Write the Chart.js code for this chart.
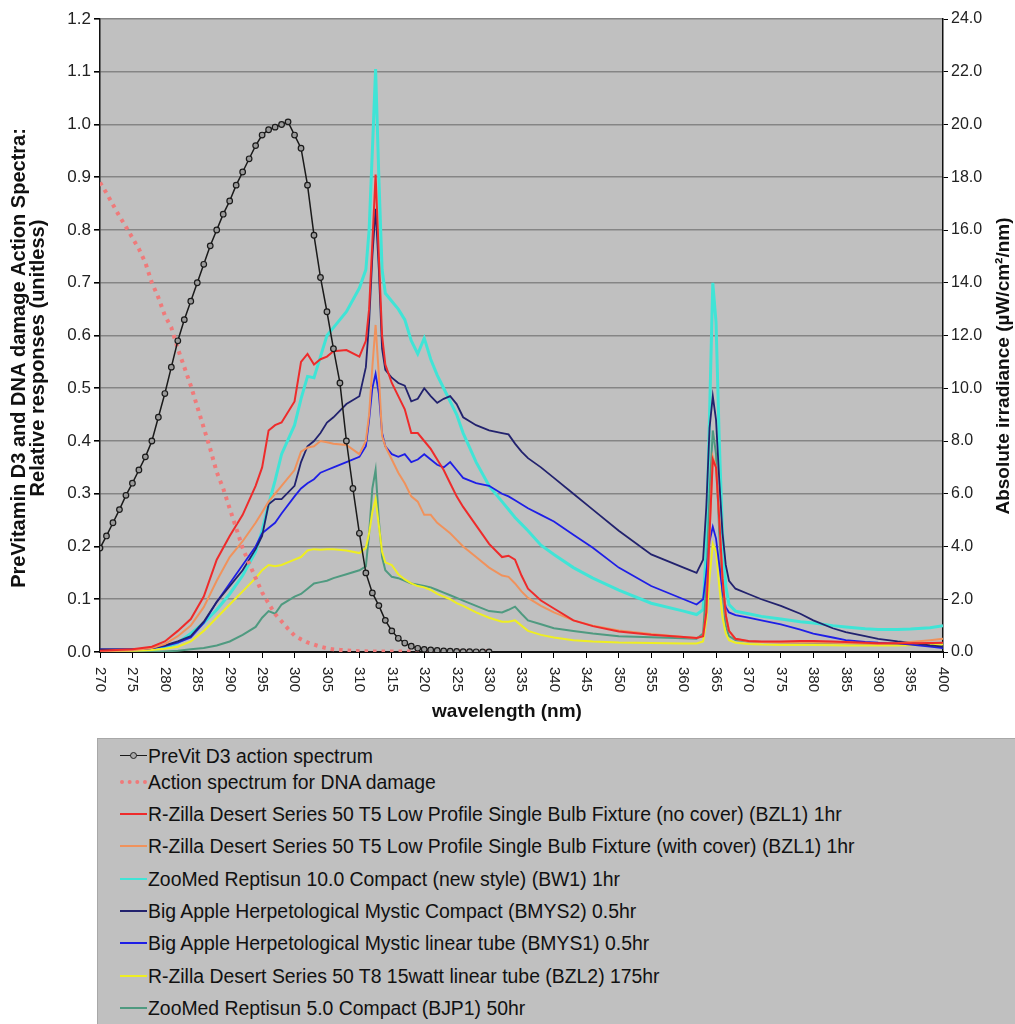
<!DOCTYPE html>
<html>
<head>
<meta charset="utf-8">
<script src="https://cdn.jsdelivr.net/npm/chart.js@4/dist/chart.umd.min.js"></script>
<style>
  body { margin: 0; background: #fff; font-family: "Liberation Sans", Arial, sans-serif; }
  #wrap { position: relative; width: 1015px; height: 1024px; overflow: hidden; }
  #chart { position: absolute; left: 0; top: 0; }
  #legend { position: absolute; left: 97px; top: 738px; width: 930px; height: 300px;
            background: #c0c0c0; border: 1px solid #a8a8a8; }
  .row { position: absolute; left: 0; height: 24px; width: 900px; }
  .sample { position: absolute; left: 22px; width: 27px; top: 11px; height: 0; }
  .dot { position: absolute; left: 10px; top: -4px; width: 5px; height: 5px; border: 1px solid #222;
         border-radius: 50%; background: #a8a8a8; }
  .txt { position: absolute; left: 50px; top: 0; font-size: 19.4px; line-height: 24px; color: #111; white-space: nowrap; }
</style>
</head>
<body>
<div id="wrap">
  <canvas id="chart" width="1015" height="735"></canvas>
  <div id="legend"></div>
</div>
<script>
// action spectra, 1 nm steps (left axis, unitless)
const actionNm = [270,271,272,273,274,275,276,277,278,279,280,281,282,283,284,285,286,287,288,289,
  290,291,292,293,294,295,296,297,298,299,300,301,302,303,304,305,306,307,308,309,
  310,311,312,313,314,315,316,317,318,319,320,321,322,323,324,325,326,327,328,329,330];
const previtD3 = [0.197,0.22,0.245,0.27,0.297,0.32,0.345,0.37,0.40,0.445,
  0.49,0.54,0.59,0.63,0.665,0.70,0.735,0.77,0.80,0.83,
  0.855,0.885,0.91,0.935,0.96,0.98,0.99,0.995,1.0,1.005,
  0.98,0.955,0.885,0.79,0.71,0.645,0.575,0.51,0.40,0.31,
  0.225,0.15,0.112,0.088,0.06,0.04,0.026,0.017,0.011,0.007,
  0.005,0.004,0.003,0.002,0.0015,0.001,0.0008,0.0006,0.0004,0.0002,0.0001];
const dnaDamage = [0.89,0.87,0.848,0.826,0.806,0.785,0.764,0.738,0.70,0.672,
  0.638,0.615,0.575,0.54,0.505,0.465,0.425,0.385,0.341,0.31,
  0.272,0.235,0.197,0.168,0.14,0.113,0.092,0.072,0.058,0.044,
  0.031,0.024,0.018,0.014,0.01,0.007,0.005,0.004,0.003,0.002,
  0.0015,0.0012,0.001,0.001,0.001,0.001,0.001,0.001,0.001,0.001,
  0.001,0.001,0.001,0.001,0.001,0.001,0.001,0.001,0.001,0.001,0.001];

// lamp spectra (right axis, uW/cm2/nm)
const lampNm = [270,275,278,280,282,284,286,288,290,292,
  294,295,296,297,298,300,301,302,303,304,
  305,306,308,310,311,311.5,312,312.5,313,313.5,
  314,315,316,317,318,319,320,321,322,323,
  324,325,326,328,330,332,333,334,335,336,
  338,340,343,346,350,355,360,362,363,363.5,
  364,364.5,365,365.5,366,366.5,367,368,370,372,
  375,378,380,383,385,388,390,393,395,398,400];
const bzl1NoCover = [0.05,0.1,0.2,0.4,0.8,1.25,2.1,3.5,4.4,5.2,
  6.3,7.0,8.4,8.6,8.7,9.5,11.0,11.3,10.9,11.1,
  11.2,11.4,11.45,11.2,11.8,13.0,15.5,18.1,15.0,12.0,
  10.9,10.2,9.7,9.2,8.3,8.3,8.0,7.7,7.3,6.9,
  6.4,5.9,5.5,4.8,4.1,3.6,3.65,3.5,2.9,2.4,
  1.95,1.65,1.2,0.98,0.78,0.65,0.57,0.53,0.6,1.5,
  4.5,7.3,7.0,5.0,2.8,1.4,0.8,0.5,0.42,0.4,
  0.4,0.42,0.42,0.4,0.38,0.35,0.33,0.33,0.33,0.34,0.35];
const bzl1Cover = [0.03,0.07,0.15,0.3,0.6,1.0,1.7,2.7,3.6,4.2,
  4.9,5.3,5.7,6.0,6.3,6.9,7.6,7.75,7.8,8.0,
  7.95,7.9,7.85,7.5,8.0,9.0,10.8,12.4,10.5,8.2,
  7.8,7.3,6.8,6.4,5.9,5.7,5.2,5.2,4.9,4.7,
  4.5,4.25,4.0,3.6,3.2,2.9,2.85,2.6,2.3,2.05,
  1.75,1.5,1.2,1.0,0.82,0.68,0.57,0.53,0.6,1.5,
  4.5,7.4,7.0,5.0,2.8,1.4,0.8,0.5,0.4,0.38,
  0.36,0.36,0.36,0.35,0.34,0.32,0.3,0.33,0.38,0.45,0.5];
const bw1 = [0.0,0.02,0.08,0.15,0.35,0.7,1.1,1.6,2.2,2.9,
  3.8,4.6,5.6,6.5,7.5,8.6,9.6,10.45,10.4,11.2,
  12.0,12.3,12.9,13.8,14.5,16.0,19.0,22.1,18.0,14.5,
  13.6,13.3,13.0,12.6,11.8,11.3,11.9,11.1,10.5,10.0,
  9.5,9.0,8.3,7.2,6.3,5.7,5.4,5.1,4.85,4.6,
  4.05,3.7,3.2,2.8,2.35,1.85,1.55,1.42,1.6,4.0,
  9.0,14.0,12.5,8.0,4.5,2.5,1.8,1.55,1.45,1.35,
  1.25,1.15,1.1,1.0,0.95,0.88,0.85,0.85,0.87,0.92,1.0];
const bmys2 = [0.1,0.1,0.15,0.25,0.4,0.6,1.15,1.9,2.5,3.1,
  3.9,4.4,5.6,5.8,5.8,6.3,7.2,7.8,8.0,8.3,
  8.7,8.9,9.4,9.7,10.8,12.5,15.0,16.8,14.5,11.5,
  10.7,10.4,10.2,10.1,9.5,9.6,10.0,9.7,9.45,9.6,
  9.7,9.4,8.9,8.6,8.4,8.3,8.25,7.9,7.6,7.35,
  7.0,6.6,6.0,5.4,4.6,3.7,3.2,3.0,3.5,5.5,
  8.5,9.7,8.8,6.5,4.5,3.3,2.7,2.4,2.2,2.0,
  1.75,1.45,1.2,0.9,0.75,0.6,0.5,0.4,0.35,0.25,0.2];
const bmys1 = [0.1,0.1,0.15,0.22,0.35,0.55,1.1,1.9,2.6,3.3,
  4.0,4.5,4.7,4.9,5.25,5.9,6.2,6.4,6.55,6.8,
  6.9,7.0,7.2,7.4,7.8,8.8,10.0,10.55,9.8,8.3,
  7.8,7.5,7.4,7.5,7.2,7.3,7.5,7.3,7.1,7.0,
  7.2,6.9,6.6,6.4,6.3,6.0,5.9,5.75,5.6,5.45,
  5.2,4.95,4.45,3.95,3.2,2.5,2.0,1.8,2.0,3.0,
  4.2,4.75,4.3,3.3,2.3,1.7,1.5,1.4,1.3,1.2,
  1.05,0.85,0.7,0.55,0.45,0.38,0.35,0.33,0.28,0.2,0.15];
const bzl2 = [0.05,0.05,0.08,0.12,0.2,0.4,0.8,1.3,1.8,2.3,
  2.8,3.1,3.3,3.25,3.3,3.5,3.6,3.85,3.9,3.88,
  3.9,3.9,3.85,3.75,3.95,4.5,5.3,5.8,4.8,3.8,
  3.4,3.3,2.95,2.75,2.6,2.5,2.45,2.35,2.2,2.1,
  2.0,1.85,1.75,1.5,1.3,1.15,1.15,1.2,1.0,0.8,
  0.65,0.55,0.45,0.4,0.36,0.34,0.32,0.32,0.4,1.2,
  2.8,4.1,3.8,2.5,1.3,0.7,0.45,0.35,0.3,0.28,
  0.27,0.27,0.27,0.26,0.25,0.25,0.25,0.25,0.26,0.27,0.28];
const bjp1 = [0.0,0.0,0.0,0.02,0.05,0.1,0.15,0.25,0.4,0.65,
  0.95,1.3,1.55,1.45,1.8,2.1,2.2,2.4,2.6,2.65,
  2.7,2.8,2.95,3.1,3.25,4.5,6.2,6.9,5.0,3.6,
  3.1,2.85,2.8,2.7,2.6,2.55,2.5,2.45,2.35,2.25,
  2.15,2.05,1.95,1.75,1.55,1.5,1.6,1.72,1.45,1.2,
  1.05,0.9,0.8,0.7,0.6,0.56,0.52,0.5,0.7,2.5,
  6.0,8.4,7.5,4.5,2.2,1.0,0.6,0.45,0.4,0.38,
  0.37,0.36,0.35,0.34,0.33,0.32,0.3,0.3,0.3,0.3,0.3];

const xTicks = { min: 270, max: 400, step: 5 };
const leftTicks = { min: 0, max: 1.2, step: 0.1 };
const rightTicks = { min: 0, max: 24, step: 2 };

const FONT = '"Liberation Sans", Arial, sans-serif';

function pts(xs, ys) {
  return xs.map((x, i) => ({ x: x, y: ys[i] }));
}

const datasets = [
  { label: 'PreVit D3 action spectrum', data: pts(actionNm, previtD3), yAxisID: 'y',
    borderColor: '#1a1a1a', borderWidth: 1.5, pointRadius: 2.8, pointBorderWidth: 1.2,
    pointBorderColor: '#1a1a1a', pointBackgroundColor: '#9a9a9a', marker: true },
  { label: 'Action spectrum for DNA damage', data: pts(actionNm, dnaDamage), yAxisID: 'y',
    borderColor: '#ef7a7a', borderWidth: 4, borderDash: [3.5, 5], dotted: true },
  { label: 'R-Zilla Desert Series 50 T5 Low Profile Single Bulb Fixture (no cover) (BZL1) 1hr',
    data: pts(lampNm, bzl1NoCover), yAxisID: 'y2', borderColor: '#ee2b2b', borderWidth: 2 },
  { label: 'R-Zilla Desert Series 50 T5 Low Profile Single Bulb Fixture (with cover) (BZL1) 1hr',
    data: pts(lampNm, bzl1Cover), yAxisID: 'y2', borderColor: '#f0925c', borderWidth: 2 },
  { label: 'ZooMed Reptisun 10.0 Compact (new style) (BW1) 1hr',
    data: pts(lampNm, bw1), yAxisID: 'y2', borderColor: '#40e4d6', borderWidth: 3, order: 9 },
  { label: 'Big Apple Herpetological Mystic Compact (BMYS2) 0.5hr',
    data: pts(lampNm, bmys2), yAxisID: 'y2', borderColor: '#22226e', borderWidth: 1.8 },
  { label: 'Big Apple Herpetological Mystic linear tube (BMYS1) 0.5hr',
    data: pts(lampNm, bmys1), yAxisID: 'y2', borderColor: '#1e1ee6', borderWidth: 1.8 },
  { label: 'R-Zilla Desert Series 50 T8 15watt linear tube (BZL2) 175hr',
    data: pts(lampNm, bzl2), yAxisID: 'y2', borderColor: '#eeee22', borderWidth: 2 },
  { label: 'ZooMed Reptisun 5.0 Compact (BJP1) 50hr',
    data: pts(lampNm, bjp1), yAxisID: 'y2', borderColor: '#4f9a80', borderWidth: 2 },
];

// plot background, clockwise x labels and axis titles
const decor = {
  id: 'decor',
  beforeDraw(chart) {
    const { ctx, chartArea: a } = chart;
    ctx.save();
    ctx.fillStyle = '#c0c0c0';
    ctx.fillRect(a.left, a.top, a.right - a.left, a.bottom - a.top);
    ctx.restore();
  },
  afterDraw(chart) {
    const ctx = chart.ctx;
    const x = chart.scales.x;
    ctx.save();
    ctx.fillStyle = '#222';
    ctx.font = '15px ' + FONT;
    ctx.textAlign = 'left';
    ctx.textBaseline = 'middle';
    x.ticks.forEach(t => {
      ctx.save();
      ctx.translate(x.getPixelForValue(t.value), x.top + 15);
      ctx.rotate(Math.PI / 2);
      ctx.fillText(String(t.value), 0, 0);
      ctx.restore();
    });

    ctx.fillStyle = '#111';
    ctx.textAlign = 'center';
    ctx.font = 'bold 19px ' + FONT;
    ctx.fillText('wavelength (nm)', 507, 712);

    ctx.font = 'bold 20px ' + FONT;
    ctx.save();
    ctx.translate(19, 358);
    ctx.rotate(-Math.PI / 2);
    ctx.fillText('PreVitamin D3 and DNA damage Action Spectra:', 0, 0);
    ctx.fillText('Relative responses (unitless)', 0, 19);
    ctx.restore();

    ctx.font = 'bold 19px ' + FONT;
    ctx.save();
    ctx.translate(1004, 366);
    ctx.rotate(-Math.PI / 2);
    ctx.fillText('Absolute irradiance (\u00b5W/cm\u00b2/nm)', 0, 0);
    ctx.restore();
    ctx.restore();
  }
};

const chart = new Chart(document.getElementById('chart'), {
  type: 'line',
  data: { datasets: datasets },
  options: {
    responsive: false,
    animation: false,
    layout: { padding: { top: 19, left: 0, right: 0, bottom: 0 } },
    elements: { line: { tension: 0 }, point: { radius: 0 } },
    plugins: { legend: { display: false }, tooltip: { enabled: false } },
    scales: {
      x: {
        type: 'linear', min: xTicks.min, max: xTicks.max,
        afterFit: s => { s.height = 83; },
        ticks: { stepSize: xTicks.step, autoSkip: false, minRotation: 90, maxRotation: 90,
                 color: 'rgba(0,0,0,0)', font: { size: 15, family: FONT } },
        grid: { drawOnChartArea: false, tickLength: 6, tickColor: '#000' },
        border: { color: '#111', width: 2 }
      },
      y: {
        position: 'left', min: leftTicks.min, max: leftTicks.max,
        afterFit: s => { s.width = 100; },
        ticks: { stepSize: leftTicks.step, color: '#222', padding: 3,
                 font: { size: 17, family: FONT }, callback: v => v.toFixed(1) },
        grid: { color: '#858585', lineWidth: 1.6, tickLength: 6, tickColor: '#000' },
        border: { color: '#111', width: 1.5 }
      },
      y2: {
        position: 'right', min: rightTicks.min, max: rightTicks.max,
        afterFit: s => { s.width = 72; },
        ticks: { stepSize: rightTicks.step, color: '#222', padding: 3,
                 font: { size: 16, family: FONT }, callback: v => v.toFixed(1) },
        grid: { drawOnChartArea: false, tickLength: 5, tickColor: '#000' },
        border: { color: '#111', width: 1.5 }
      }
    }
  },
  plugins: [decor]
});

// html legend built from the chart datasets
const rowCenters = [755, 781, 813, 845, 878, 910, 942, 975, 1007];
const legendBox = document.getElementById('legend');
chart.data.datasets.forEach((ds, i) => {
  const row = document.createElement('div');
  row.className = 'row';
  row.style.top = (rowCenters[i] - 738 - 12) + 'px';
  const sample = document.createElement('div');
  sample.className = 'sample';
  if (ds.dotted) {
    sample.style.borderTop = '4px dotted ' + ds.borderColor;
    sample.style.top = '10px';
  } else {
    sample.style.borderTop = '2px solid ' + ds.borderColor;
  }
  if (ds.marker) {
    sample.style.borderTopWidth = '1.5px';
    const d = document.createElement('div');
    d.className = 'dot';
    sample.appendChild(d);
  }
  const txt = document.createElement('span');
  txt.className = 'txt';
  txt.textContent = ds.label;
  row.appendChild(sample);
  row.appendChild(txt);
  legendBox.appendChild(row);
});
</script>
</body>
</html>
